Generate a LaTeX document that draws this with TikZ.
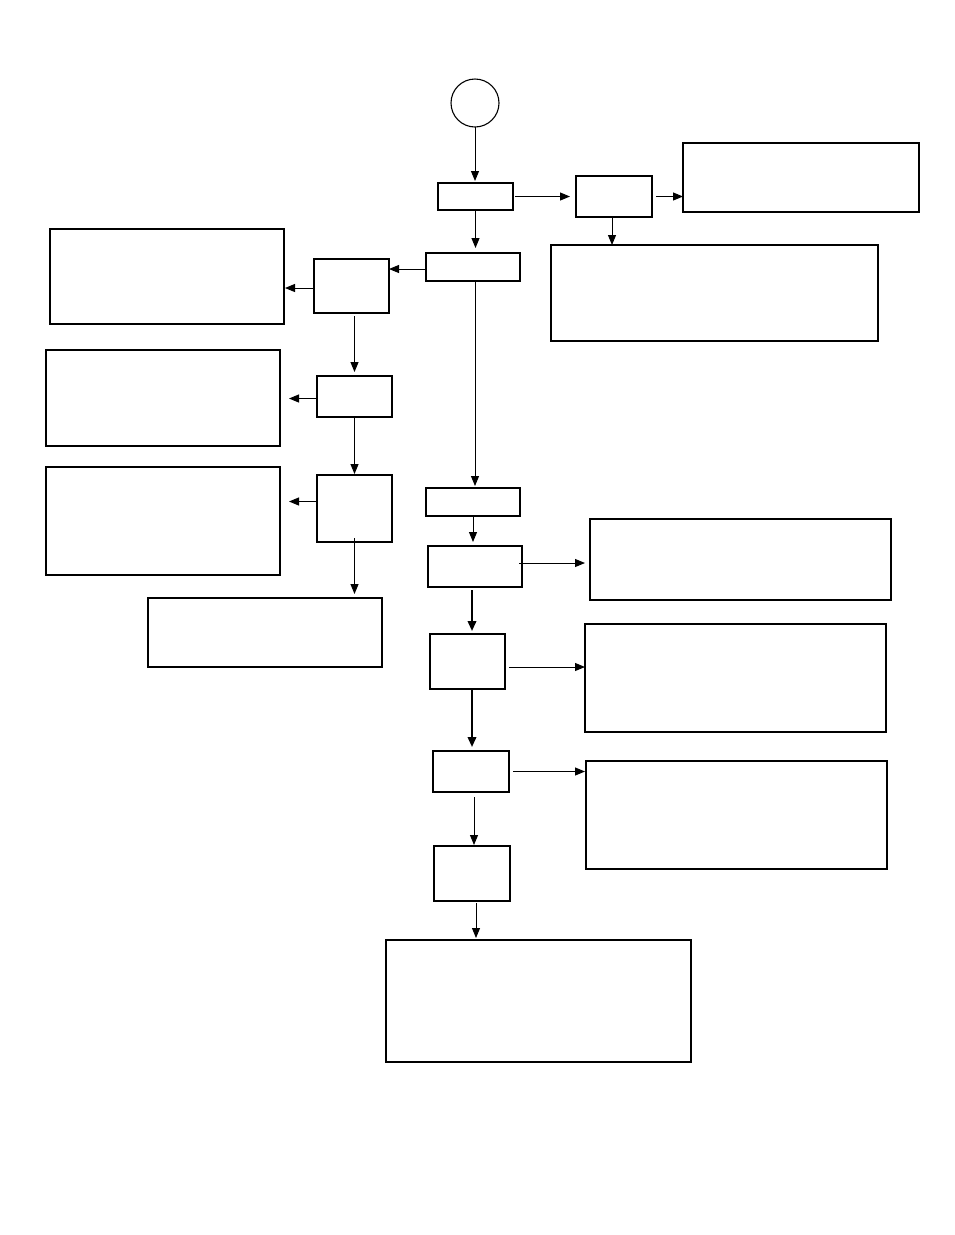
\documentclass[tikz,border=0pt]{standalone}
\usetikzlibrary{arrows.meta}
\begin{document}
\begin{tikzpicture}[x=1pt,y=-1pt,
  box/.style={draw=black, line width=1.1pt, inner sep=0pt, outer sep=0pt, fill=white},
  arr/.style={line width=1pt, -{Triangle[length=10pt,width=8pt]}},
  tarr/.style={line width=2pt, -{Triangle[length=10pt,width=8.5pt]}}]
\fill[white] (0,0) rectangle (954,1235);
\useasboundingbox (0,0) rectangle (954,1235);
% nodes
\node[draw=black, line width=1.1pt, circle, minimum size=48pt, inner sep=0pt, outer sep=0pt] (c) at (475,103) {};
\node[box, minimum width=75pt, minimum height=27pt] (A) at (475.5,196.5) {};
\node[box, minimum width=76pt, minimum height=41pt] (B) at (614,196.5) {};
\node[box, minimum width=236pt, minimum height=69pt] (C) at (801,177.5) {};
\node[box, minimum width=327pt, minimum height=96pt] (D) at (714.5,293) {};
\node[box, minimum width=94pt, minimum height=28pt] (E) at (473,267) {};
\node[box, minimum width=75pt, minimum height=54pt] (F) at (351.5,286) {};
\node[box, minimum width=234pt, minimum height=95pt] (G) at (167,276.5) {};
\node[box, minimum width=75pt, minimum height=41pt] (H) at (354.5,396.5) {};
\node[box, minimum width=234pt, minimum height=96pt] (I) at (163,398) {};
\node[box, minimum width=75pt, minimum height=67pt] (J) at (354.5,508.5) {};
\node[box, minimum width=234pt, minimum height=108pt] (K) at (163,521) {};
\node[box, minimum width=234pt, minimum height=69pt] (L) at (265,632.5) {};
\node[box, minimum width=94pt, minimum height=28pt] (M) at (473,502) {};
\node[box, minimum width=94pt, minimum height=41pt] (N) at (475,566.5) {};
\node[box, minimum width=301pt, minimum height=81pt] (O) at (740.5,559.5) {};
\node[box, minimum width=75pt, minimum height=55pt] (P) at (467.5,661.5) {};
\node[box, minimum width=301pt, minimum height=108pt] (Q) at (735.5,678) {};
\node[box, minimum width=76pt, minimum height=41pt] (R) at (471,771.5) {};
\node[box, minimum width=301pt, minimum height=108pt] (S) at (736.5,815) {};
\node[box, minimum width=76pt, minimum height=55pt] (T) at (472,873.5) {};
\node[box, minimum width=305pt, minimum height=122pt] (U) at (538.5,1001) {};
\draw[line width=2.2pt] (T.south west) -- (T.south east);
% connectors
\draw[arr, shorten >=2pt] (c.south) -- (c.south |- A.north);
\draw[arr, shorten <=2pt, shorten >=6pt] (A.east) -- (A.east -| B.west);
\draw[arr, shorten >=5pt] (A.south) -- (A.south |- E.north);
\draw[arr] ([xshift=-2pt]B.south) -- ([xshift=-2pt]B.south |- D.north);
\draw[arr, shorten <=4pt] (B.east) -- (B.east -| C.west);
\draw[arr] ([yshift=-2pt]E.west) -- ([yshift=-2pt]E.west -| F.east);
\draw[arr, shorten >=2pt] ([xshift=2pt]E.south) -- ([xshift=2pt]E.south |- M.north);
\draw[arr, shorten >=1pt] ([yshift=-2pt]F.west) -- ([yshift=-2pt]F.west -| G.east);
\draw[arr, shorten <=3pt, shorten >=4pt] (H.north |- F.south) -- (H.north);
\draw[arr, shorten >=9pt] ([yshift=-2pt]H.west) -- ([yshift=-2pt]H.west -| I.east);
\draw[arr, shorten >=1pt] (H.south) -- (J.north);
\draw[arr, shorten >=9pt] ([yshift=7pt]J.west) -- ([yshift=7pt]J.west -| K.east);
\draw[arr, shorten >=4pt] ([yshift=4pt]J.south) -- (J.south |- L.north);
\draw[arr, shorten >=4pt] (M.south) -- (M.south |- N.north);
\draw[arr, shorten >=5pt] ([xshift=-3pt,yshift=3.5pt]N.east) -- ([yshift=3.5pt]N.east -| O.west);
\draw[tarr, shorten <=3pt, shorten >=3pt] ([xshift=-3pt]N.south) -- ([xshift=-3pt]N.south |- P.north);
\draw[arr, shorten <=4pt] ([yshift=-5.5pt]P.east) -- ([yshift=-5.5pt]P.east -| Q.west);
\draw[tarr, shorten >=4pt] ([xshift=4.5pt]P.south) -- ([xshift=4.5pt]P.south |- R.north);
\draw[arr, shorten <=4pt, shorten >=1pt] (R.east) -- (R.east -| S.west);
\draw[arr, shorten <=5pt, shorten >=1pt] ([xshift=3pt]R.south) -- ([xshift=3pt]R.south |- T.north);
\draw[arr, shorten <=2pt, shorten >=2pt] ([xshift=4pt]T.south) -- ([xshift=4pt]T.south |- U.north);
\end{tikzpicture}
\end{document}
